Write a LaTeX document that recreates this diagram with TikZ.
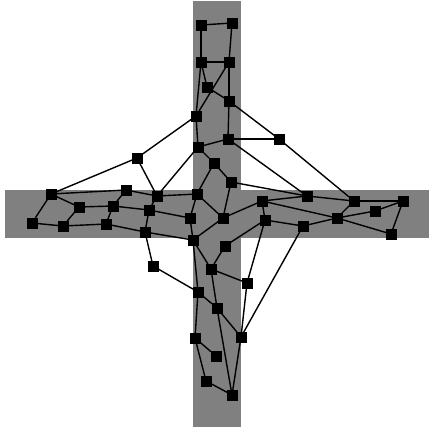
\documentclass[tikz,border=0pt]{standalone}
\usepackage{tikz}

\begin{document}
\begin{tikzpicture}[x=1pt, y=-1pt, v/.style={draw, fill=black, minimum size=9.5pt, inner sep=0pt}, e/.style={line width=1.4pt}]
\useasboundingbox (0,0) rectangle (429,431);
% the cross
\fill[gray] (193,1) rectangle (241,427);
\fill[gray] (5,190) rectangle (429,238);
% top arm
\node[v] (t1) at (201,25) {}; \node[v] (t2) at (232,23) {};
\node[v] (t3) at (201,62) {}; \node[v] (t4) at (229,62) {};
\node[v] (t5) at (207,87) {}; \node[v] (t6) at (229,101) {};
\node[v] (t7) at (196,116) {}; \node[v] (t8) at (228,139) {};
\node[v] (t9) at (279,139) {}; \node[v] (t10) at (198,147) {};
\node[v] (t11) at (137,158) {};
% centre
\node[v] (c1) at (214,163) {}; \node[v] (c2) at (231,182) {};
\node[v] (c3) at (197,194) {}; \node[v] (c4) at (190,218) {};
\node[v] (c5) at (223,218) {}; \node[v] (c6) at (193,240) {};
\node[v] (c7) at (225,246) {}; \node[v] (c8) at (262,201) {};
\node[v] (c9) at (265,220) {};
% left arm
\node[v] (l1) at (51,194) {}; \node[v] (l2) at (79,207) {};
\node[v] (l3) at (113,206) {}; \node[v] (l4) at (32,223) {};
\node[v] (l5) at (63,226) {}; \node[v] (l6) at (106,224) {};
\node[v] (l7) at (126,190) {}; \node[v] (l8) at (157,196) {};
\node[v] (l9) at (149,210) {}; \node[v] (l10) at (145,232) {};
% right arm
\node[v] (r1) at (307,196) {}; \node[v] (r2) at (354,201) {};
\node[v] (r3) at (403,201) {}; \node[v] (r4) at (375,211) {};
\node[v] (r5) at (337,218) {}; \node[v] (r6) at (303,226) {};
\node[v] (r7) at (391,234) {};
% bottom arm
\node[v] (b1) at (153,266) {}; \node[v] (b2) at (211,269) {};
\node[v] (b3) at (247,283) {}; \node[v] (b4) at (198,292) {};
\node[v] (b5) at (217,308) {}; \node[v] (b6) at (241,337) {};
\node[v] (b7) at (195,338) {}; \node[v] (b8) at (216,356) {};
\node[v] (b9) at (206,381) {}; \node[v] (b10) at (232,395) {};
% edges
\draw[e] (t1) -- (t2); \draw[e] (t1) -- (t3); \draw[e] (t2) -- (t4); \draw[e] (t3) -- (t4);
\draw[e] (t3) -- (t5); \draw[e] (t3) -- (t7); \draw[e] (t4) -- (t7); \draw[e] (t4) -- (t6);
\draw[e] (t5) -- (t6); \draw[e] (t6) -- (t8); \draw[e] (t6) -- (t9); \draw[e] (t7) -- (t11);
\draw[e] (t7) -- (t10); \draw[e] (t8) -- (t10); \draw[e] (t8) -- (t9); \draw[e] (t8) -- (r1);
\draw[e] (t9) -- (r2); \draw[e] (t10) -- (c1); \draw[e] (t10) -- (l8); \draw[e] (t11) -- (l1);
\draw[e] (t11) -- (l8);
\draw[e] (c1) -- (c2); \draw[e] (c1) -- (c3); \draw[e] (c2) -- (r1); \draw[e] (c2) -- (c5);
\draw[e] (c3) -- (c4); \draw[e] (c3) -- (c5); \draw[e] (c4) -- (c6); \draw[e] (c5) -- (c8);
\draw[e] (c5) -- (c6); \draw[e] (c8) -- (r1); \draw[e] (c8) -- (r5); \draw[e] (c8) -- (c9);
\draw[e] (c9) -- (r6); \draw[e] (c9) -- (c7); \draw[e] (c9) -- (b3);
\draw[e] (l7) -- (l1); \draw[e] (l7) -- (l8); \draw[e] (l7) -- (l3); \draw[e] (l8) -- (c3);
\draw[e] (l8) -- (l9); \draw[e] (l9) -- (c4); \draw[e] (l9) -- (l10); \draw[e] (l9) -- (l3);
\draw[e] (l1) -- (l2); \draw[e] (l1) -- (l4); \draw[e] (l4) -- (l5); \draw[e] (l5) -- (l2);
\draw[e] (l2) -- (l3); \draw[e] (l3) -- (l6); \draw[e] (l6) -- (l5); \draw[e] (l6) -- (l10);
\draw[e] (l10) -- (c6); \draw[e] (l10) -- (b1);
\draw[e] (r1) -- (r2); \draw[e] (r2) -- (r3); \draw[e] (r2) -- (r5); \draw[e] (r5) -- (r4);
\draw[e] (r4) -- (r3); \draw[e] (r3) -- (r7); \draw[e] (r5) -- (r7); \draw[e] (r5) -- (r6);
\draw[e] (r6) -- (b6);
\draw[e] (c6) -- (b2); \draw[e] (c6) -- (b4); \draw[e] (c7) -- (b2); \draw[e] (b1) -- (b4);
\draw[e] (b2) -- (b3); \draw[e] (b2) -- (b5); \draw[e] (b4) -- (b5); \draw[e] (b4) -- (b7);
\draw[e] (b5) -- (b6); \draw[e] (b5) -- (b10); \draw[e] (b3) -- (b6); \draw[e] (b6) -- (b10);
\draw[e] (b7) -- (b8); \draw[e] (b7) -- (b9); \draw[e] (b9) -- (b10);
\end{tikzpicture}
\end{document}
